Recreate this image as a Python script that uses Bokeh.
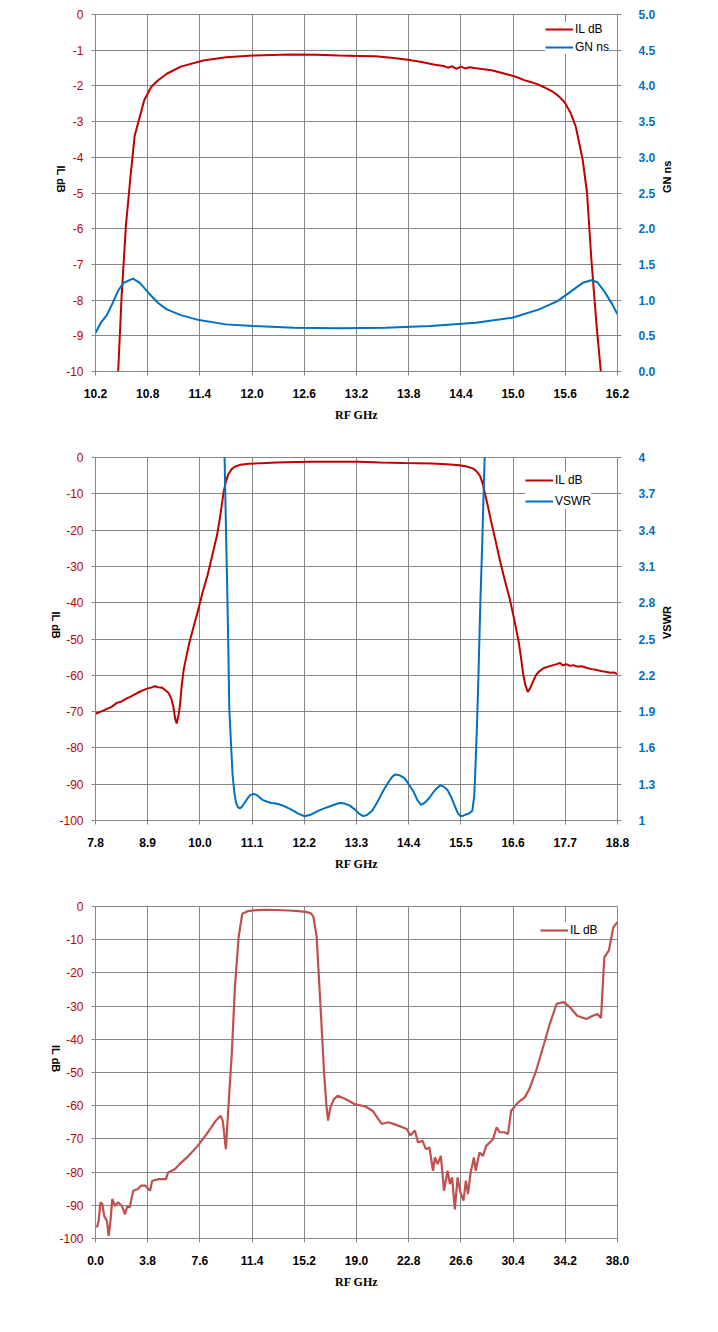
import math
from bokeh.plotting import figure
from bokeh.models import (Range1d, LinearAxis, FixedTicker, Legend, LegendItem,
                          NumeralTickFormatter)
from bokeh.layouts import column
from bokeh.embed import file_html
from bokeh.resources import INLINE

# ---------------- data: chart 1 ----------------
c1_il_freq = [10.455, 10.50, 10.55, 10.60, 10.65, 10.70, 10.76, 10.84, 10.92, 11.02,
              11.18, 11.44, 11.70, 12.01, 12.43, 12.74, 13.00, 13.21, 13.42, 13.60,
              13.79, 13.95, 14.10, 14.20, 14.25, 14.30, 14.35, 14.40, 14.45, 14.50,
              14.55, 14.62, 14.75, 14.83, 14.95, 15.04, 15.12, 15.20, 15.28, 15.35,
              15.46, 15.52, 15.59, 15.66, 15.72, 15.76, 15.80, 15.85, 15.90, 15.96, 16.02]
c1_il_db = [-10.3, -7.9, -5.9, -4.6, -3.4, -2.95, -2.4, -2.03, -1.84, -1.66,
            -1.46, -1.29, -1.20, -1.15, -1.12, -1.13, -1.15, -1.16, -1.17, -1.21,
            -1.27, -1.33, -1.41, -1.44, -1.49, -1.45, -1.52, -1.46, -1.51, -1.48,
            -1.50, -1.52, -1.56, -1.61, -1.69, -1.75, -1.83, -1.89, -1.95, -2.03,
            -2.17, -2.28, -2.45, -2.75, -3.14, -3.60, -4.07, -5.00, -6.87, -8.73, -10.3]
c1_gn_freq = [10.20, 10.26, 10.33, 10.39, 10.46, 10.52, 10.63, 10.71, 10.81, 10.92,
              11.02, 11.18, 11.39, 11.70, 12.01, 12.48, 13.00, 13.53, 14.05, 14.57,
              14.99, 15.30, 15.51, 15.67, 15.80, 15.90, 15.97, 16.06, 16.14, 16.20]
c1_gn_ns = [0.54, 0.68, 0.79, 0.94, 1.13, 1.24, 1.30, 1.24, 1.10, 0.96,
            0.87, 0.79, 0.72, 0.66, 0.637, 0.614, 0.605, 0.614, 0.637, 0.684,
            0.753, 0.87, 0.986, 1.126, 1.242, 1.279, 1.25, 1.10, 0.94, 0.80]
c1_x_ticks = [10.2, 10.8, 11.4, 12.0, 12.6, 13.2, 13.8, 14.4, 15.0, 15.6, 16.2]
c1_y_ticks = [0, -1, -2, -3, -4, -5, -6, -7, -8, -9, -10]
c1_r_ticks = [0.0, 0.5, 1.0, 1.5, 2.0, 2.5, 3.0, 3.5, 4.0, 4.5, 5.0]

# ---------------- data: chart 2 ----------------
c2_il_freq = [7.80, 7.95, 8.05, 8.14, 8.25, 8.35, 8.45, 8.52, 8.62, 8.72, 8.81, 8.90,
              8.97, 9.05, 9.12, 9.20, 9.28, 9.34, 9.40, 9.44, 9.48, 9.51, 9.55, 9.58,
              9.62, 9.66, 9.72, 9.78, 9.88, 9.97, 10.06, 10.16, 10.26, 10.36, 10.43,
              10.50, 10.55, 10.60, 10.67, 10.74, 10.85, 11.03, 11.30, 11.61, 12.00,
              12.38, 12.90, 13.34, 13.80, 14.31, 14.60, 14.89, 15.20, 15.47, 15.62,
              15.75, 15.83, 15.90, 15.96, 16.00, 16.07, 16.14, 16.24, 16.33, 16.43,
              16.53, 16.63, 16.72, 16.77, 16.81, 16.86, 16.91, 16.96, 17.01, 17.08,
              17.15, 17.25, 17.39, 17.50, 17.59, 17.65, 17.72, 17.80, 17.87, 17.95,
              18.05, 18.16, 18.25, 18.35, 18.45, 18.55, 18.65, 18.72, 18.80]
c2_il_db = [-70.6, -69.8, -69.2, -68.7, -67.6, -67.2, -66.4, -66.0, -65.3, -64.6, -64.1, -63.6,
            -63.4, -63.0, -63.3, -63.4, -64.2, -64.9, -66.5, -68.6, -72.0, -73.3, -71.0, -68.2,
            -62.5, -58.3, -54.5, -50.9, -46.0, -41.7, -37.0, -32.5, -27.0, -21.5, -16.0,
            -9.5, -6.5, -4.6, -3.2, -2.5, -2.0, -1.75, -1.55, -1.4, -1.25,
            -1.2, -1.2, -1.2, -1.35, -1.5, -1.55, -1.65, -1.85, -2.15, -2.5,
            -3.0, -3.8, -5.0, -7.2, -9.5, -13.5, -17.8, -23.5, -28.8, -34.0,
            -39.0, -45.0, -50.9, -55.5, -59.5, -62.8, -64.6, -63.5, -62.0, -60.0,
            -58.9, -58.0, -57.4, -57.0, -56.6, -57.3, -56.9, -57.4, -57.2, -57.6,
            -57.5, -58.0, -58.3, -58.5, -58.8, -59.0, -59.3, -59.2, -59.7]
c2_vswr_freq = [10.50, 10.52, 10.55, 10.57, 10.60, 10.62, 10.66, 10.69, 10.73, 10.76,
                10.80, 10.84, 10.88, 10.93, 11.00, 11.06, 11.13, 11.20, 11.26, 11.32,
                11.42, 11.51, 11.60, 11.70, 11.82, 11.95, 12.08, 12.21, 12.35, 12.48,
                12.62, 12.76, 12.90, 12.96, 13.05, 13.15, 13.27, 13.36, 13.44, 13.52,
                13.63, 13.75, 13.87, 13.98, 14.05, 14.11, 14.20, 14.31, 14.40, 14.50,
                14.58, 14.66, 14.75, 14.84, 14.95, 15.06, 15.14, 15.22, 15.30, 15.37,
                15.43, 15.49, 15.55, 15.61, 15.68, 15.74, 15.78, 15.80, 15.84, 15.87,
                15.91, 15.95, 16.00, 16.02]
c2_vswr = [4.6, 4.0, 3.4, 3.03, 2.4, 1.92, 1.6, 1.37, 1.22, 1.15,
           1.11, 1.10, 1.11, 1.14, 1.18, 1.21, 1.22, 1.21, 1.19, 1.17,
           1.155, 1.145, 1.14, 1.13, 1.11, 1.085, 1.055, 1.035, 1.05, 1.077,
           1.10, 1.12, 1.14, 1.145, 1.14, 1.125, 1.09, 1.055, 1.036, 1.045,
           1.08, 1.16, 1.25, 1.32, 1.36, 1.38, 1.375, 1.35, 1.30, 1.24,
           1.17, 1.13, 1.15, 1.19, 1.25, 1.29, 1.28, 1.25, 1.19, 1.12,
           1.065, 1.036, 1.04, 1.05, 1.06, 1.08, 1.2, 1.37, 1.8, 2.2,
           2.8, 3.3, 4.0, 4.6]
c2_x_ticks = [7.8, 8.9, 10.0, 11.1, 12.2, 13.3, 14.4, 15.5, 16.6, 17.7, 18.8]
c2_y_ticks = [0, -10, -20, -30, -40, -50, -60, -70, -80, -90, -100]
c2_r_ticks = [1.0, 1.3, 1.6, 1.9, 2.2, 2.5, 2.8, 3.1, 3.4, 3.7, 4.0]

# ---------------- data: chart 3 ----------------
c3_freq = [0.10, 0.23, 0.36, 0.50, 0.63, 0.83, 0.96, 1.09, 1.22, 1.42, 1.65, 1.92,
           2.15, 2.32, 2.48, 2.75, 3.08, 3.31, 3.64, 3.97, 4.13, 4.63, 5.13, 5.29,
           5.79, 6.12, 6.78, 7.44, 8.10, 8.76, 9.10, 9.26, 9.49, 9.69, 9.92, 10.15,
           10.42, 10.68, 11.08, 11.70, 12.40, 13.20, 14.05, 14.80, 15.40, 15.70, 15.87,
           16.10, 16.37, 16.63, 16.80, 16.93, 17.10, 17.36, 17.63, 18.19, 18.85, 19.68,
           20.17, 20.50, 20.84, 21.33, 21.83, 22.33, 22.66, 22.92, 23.25, 23.48, 23.81,
           24.05, 24.31, 24.57, 24.71, 24.90, 25.14, 25.37, 25.63, 25.80, 25.96, 26.16,
           26.36, 26.56, 26.79, 26.96, 27.12, 27.29, 27.55, 27.68, 27.95, 28.21, 28.44,
           28.94, 29.20, 29.43, 29.76, 30.03, 30.26, 30.76, 31.25, 31.58, 32.08, 32.58,
           33.07, 33.57, 34.07, 34.56, 35.06, 35.72, 36.21, 36.54, 36.80, 37.04, 37.37,
           37.70, 38.00]
c3_il_db = [-96.7, -94.7, -89.1, -89.6, -93.2, -94.7, -99.2, -94.7, -88.1, -90.2, -89.1, -90.2,
            -92.7, -90.2, -90.7, -85.6, -85.1, -84.1, -84.1, -85.6, -82.6, -82.1, -82.1, -80.1,
            -79.1, -77.6, -75.1, -72.1, -68.5, -64.5, -63.0, -64.5, -73.1, -59.5, -44.4, -24.3,
            -9.2, -2.2, -1.4, -1.1, -1.0, -1.05, -1.2, -1.4, -1.7, -2.1, -3.2,
            -9.2, -29.3, -49.4, -59.5, -64.5, -60.5, -58.0, -57.0, -58.0, -59.5, -60.3,
            -61.5, -63.5, -65.5, -65.0, -65.7, -66.5, -67.0, -69.0, -67.5, -71.1, -70.6,
            -73.1, -72.6, -79.6, -75.6, -77.6, -75.1, -85.6, -79.6, -83.6, -81.6, -91.2,
            -81.6, -86.1, -88.6, -82.6, -86.6, -80.6, -75.6, -79.6, -74.1, -75.1, -72.1,
            -70.1, -66.5, -68.0, -68.0, -68.5, -61.5, -59.0, -57.5, -55.0, -49.4, -42.4,
            -35.4, -29.3, -28.8, -30.4, -32.9, -33.9, -32.9, -32.4, -33.6, -15.3, -13.3,
            -6.2, -4.7]
c3_x_ticks = [0.0, 3.8, 7.6, 11.4, 15.2, 19.0, 22.8, 26.6, 30.4, 34.2, 38.0]
c3_y_ticks = [0, -10, -20, -30, -40, -50, -60, -70, -80, -90, -100]

# ---------------- styling ----------------
GRID = "#868686"
RED = "#C00000"
BLUE = "#0070C0"
RED3 = "#C0504D"
SANS = "Liberation Sans"
SERIF = "Liberation Serif"


def style_side_title(ax, text, orient, standoff):
    ax.axis_label = text
    ax.axis_label_orientation = orient
    ax.axis_label_standoff = standoff
    ax.axis_label_text_font = SANS
    ax.axis_label_text_font_size = "11px"
    ax.axis_label_text_font_style = "bold"
    ax.axis_label_text_color = "black"


def make_fig(width, height, bl, br, bt, bb, xr, yr, xticks, yticks, xfmt, yfmt, tstand):
    p = figure(width=width, height=height, x_range=Range1d(*xr), y_range=Range1d(*yr),
               output_backend="svg", toolbar_location=None,
               min_border_left=bl, min_border_right=br, min_border_top=bt, min_border_bottom=bb)
    p.outline_line_color = GRID
    p.outline_line_width = 1
    p.background_fill_color = "white"
    p.border_fill_color = "white"
    for g in (p.xgrid, p.ygrid):
        g.grid_line_color = GRID
        g.grid_line_width = 1
    xa = p.xaxis[0]
    xa.ticker = FixedTicker(ticks=xticks)
    xa.formatter = NumeralTickFormatter(format=xfmt)
    xa.axis_line_color = GRID
    xa.major_tick_line_color = GRID
    xa.major_tick_out = 4
    xa.major_tick_in = 0
    xa.minor_tick_line_color = None
    xa.major_label_text_font = SANS
    xa.major_label_text_font_size = "12px"
    xa.major_label_text_font_style = "bold"
    xa.major_label_text_color = "black"
    xa.major_label_standoff = 13
    xa.axis_label = "RF GHz"
    xa.axis_label_text_font = SERIF
    xa.axis_label_text_font_size = "12px"
    xa.axis_label_text_font_style = "bold"
    xa.axis_label_text_color = "black"
    xa.axis_label_standoff = 7
    ya = p.yaxis[0]
    ya.ticker = FixedTicker(ticks=yticks)
    ya.formatter = NumeralTickFormatter(format=yfmt)
    ya.axis_line_color = GRID
    ya.major_tick_line_color = GRID
    ya.major_tick_out = 4
    ya.major_tick_in = 0
    ya.minor_tick_line_color = None
    ya.major_label_text_font = SANS
    ya.major_label_text_font_size = "12px"
    ya.major_label_text_color = RED
    ya.major_label_standoff = 8
    style_side_title(ya, "IL dB", -math.pi / 2, tstand)
    return p


def add_right_axis(p, rr, rticks, rfmt, title):
    p.extra_y_ranges = {"r": Range1d(*rr)}
    ax = LinearAxis(y_range_name="r")
    ax.ticker = FixedTicker(ticks=rticks)
    ax.formatter = NumeralTickFormatter(format=rfmt)
    ax.axis_line_color = GRID
    ax.major_tick_line_color = GRID
    ax.major_tick_out = 4
    ax.major_tick_in = 4
    ax.minor_tick_line_color = None
    ax.major_label_text_font = SANS
    ax.major_label_text_font_size = "12px"
    ax.major_label_text_font_style = "bold"
    ax.major_label_text_color = BLUE
    ax.major_label_standoff = 17
    style_side_title(ax, title, math.pi / 2, 9)
    p.add_layout(ax, "right")


def make_legend(p, items, loc, pad, h, sp):
    lg = Legend(items=items, location=loc, padding=pad, spacing=sp, margin=0,
                glyph_width=28, glyph_height=h, label_height=h, label_standoff=2,
                border_line_color=None, background_fill_color="white",
                background_fill_alpha=1.0, label_text_font=SANS,
                label_text_font_size="12px", label_text_color="black")
    p.add_layout(lg)


# ---------------- chart 1 ----------------
p1 = make_fig(702, 432, 90, 85, 14, 61, (10.2, 16.2), (-10, 0),
              c1_x_ticks, c1_y_ticks, "0.0", "0", 2)
add_right_axis(p1, (0, 5), c1_r_ticks, "0.0", "GN ns")
r1a = p1.line(c1_il_freq, c1_il_db, line_color=RED, line_width=2)
r1b = p1.line(c1_gn_freq, c1_gn_ns, line_color=BLUE, line_width=2, y_range_name="r")
make_legend(p1, [LegendItem(label="IL dB", renderers=[r1a]),
                 LegendItem(label="GN ns", renderers=[r1b])], (450, 317), 4, 14, 4)

# ---------------- chart 2 ----------------
p2 = make_fig(702, 445, 95, 84, 25, 57, (7.8, 18.8), (-100, 0),
              c2_x_ticks, c2_y_ticks, "0.0", "0", 0)
add_right_axis(p2, (1, 4), c2_r_ticks, "0.[0]", "VSWR")
r2a = p2.line(c2_il_freq, c2_il_db, line_color=RED, line_width=2)
r2b = p2.line(c2_vswr_freq, c2_vswr, line_color=BLUE, line_width=2, y_range_name="r")
make_legend(p2, [LegendItem(label="IL dB", renderers=[r2a]),
                 LegendItem(label="VSWR", renderers=[r2b])], (430, 311), 5, 16, 5)

# ---------------- chart 3 ----------------
p3 = make_fig(702, 439, 95, 81, 29, 78, (0, 38), (-100, 0),
              c3_x_ticks, c3_y_ticks, "0.0", "0", 0)
r3 = p3.line(c3_freq, c3_il_db, line_color=RED3, line_width=2.2)
make_legend(p3, [LegendItem(label="IL dB", renderers=[r3])], (445, 300), 5, 16, 5)

layout = column(p1, p2, p3, spacing=0)
open("out.html", "w").write(file_html(layout, INLINE))
